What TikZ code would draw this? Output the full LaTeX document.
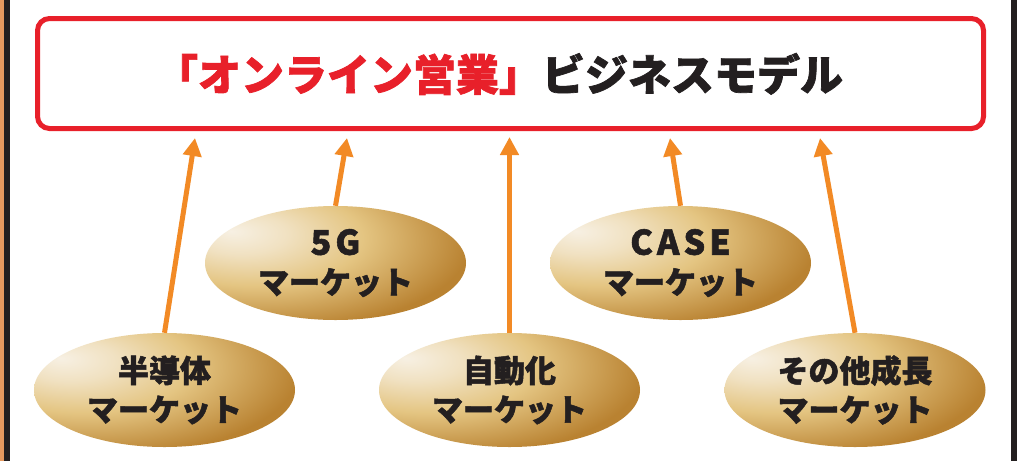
\documentclass[tikz,border=0pt]{standalone}
\usepackage{fontspec}
\setmainfont{Noto Sans CJK JP}[BoldFeatures={FakeBold=1.6}]
\usetikzlibrary{shapes.geometric,arrows.meta}
\definecolor{tRed}{HTML}{E8202A}
\definecolor{tInk}{HTML}{231F20}
\definecolor{aOrange}{HTML}{F28A25}
\definecolor{edgeOrange}{HTML}{E69A60}
\definecolor{gLight}{HTML}{F7F0E3}
\definecolor{gMid}{HTML}{E4C582}
\definecolor{gDark}{HTML}{B98231}
\pgfdeclareradialshading{goldshade}{\pgfpoint{-20bp}{14bp}}{%
  color(0bp)=(gLight); color(9bp)=(gLight!65!gMid); color(21bp)=(gMid);
  color(38bp)=(gDark); color(56bp)=(gDark); color(100bp)=(gDark)}
\tikzset{
  market/.style={ellipse, shading=goldshade, minimum width=261pt, minimum height=114pt,
    inner sep=0pt, align=center, text=tInk,
    font=\bfseries\fontsize{31}{39}\selectfont},
  title box/.style={draw=tRed, line width=5pt, rounded corners=12pt,
    minimum width=946pt, minimum height=110pt, inner sep=0pt},
  feed/.style={draw=aOrange, line width=5pt, -{Triangle[length=18pt,width=18pt]}},
}
\newcommand{\wide}[1]{{\fontsize{34}{39}\selectfont\addfontfeature{LetterSpace=12,FakeBold=2}#1}}
\begin{document}
\begin{tikzpicture}[x=1pt,y=-1pt]
\useasboundingbox (0,0) rectangle (1017,461);
\fill[white] (0,0) rectangle (1017,461);
\fill[edgeOrange] (0,0) rectangle (3.5,461);
\fill[tInk] (3.5,0) rectangle (10,461);
\fill[tInk] (1010.5,0) rectangle (1017,461);

\node[title box] (box) at (510.5,73.5) {};
\node[font=\bfseries\fontsize{43}{50}\selectfont, inner sep=0pt] (title) at (499,74)
  {\textcolor{tRed}{「オンライン営業」}\textcolor{tInk}{ビジネスモデル}};

\node[market] (m1) at (164.5,390) {半導体\\マーケット};
\node[market] (m2) at (335.5,263) {\wide{5G}\\マーケット};
\node[market] (m3) at (509.5,390) {自動化\\マーケット};
\node[market] (m4) at (680.5,263) {\wide{CASE}\\マーケット};
\node[market] (m5) at (855,390) {その他成長\\マーケット};

\coordinate (t1) at (195,138);
\coordinate (t2) at (347,138);
\coordinate (t3) at (509.5,137);
\coordinate (t4) at (670,138);
\coordinate (t5) at (820,138);

\draw[feed] (m1.north) -- (t1);
\draw[feed] (m2.north) -- (t2);
\draw[feed] (m3.north) -- (t3);
\draw[feed] (m4.north) -- (t4);
\draw[feed] (m5.north) -- (t5);
\end{tikzpicture}
\end{document}
